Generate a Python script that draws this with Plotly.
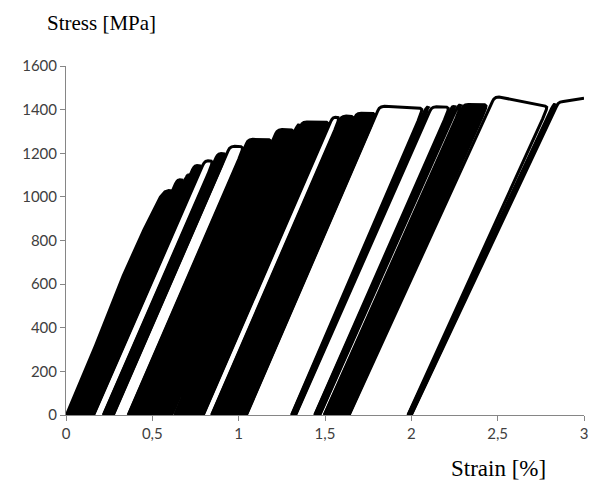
import plotly.graph_objects as go

# ---- data (strain in %, stress in MPa) ----
# first monotonic loading curve
initial_strain = [0.0, 0.17, 0.33, 0.45, 0.545, 0.572, 0.595]
initial_stress = [0, 320, 640, 850, 1000, 1024, 1030]

# each segment: a loading/unloading envelope between two residual strains
seg_start = [0.000, 0.050, 0.097, 0.110, 0.160, 0.216, 0.274, 0.360, 0.505, 0.611, 0.630,
             0.795, 0.843, 0.925, 1.045, 1.306, 1.330, 1.440, 1.470, 1.495, 1.640, 1.980]
seg_end = [0.050, 0.097, 0.110, 0.160, 0.216, 0.274, 0.360, 0.505, 0.611, 0.630, 0.795,
           0.843, 0.925, 1.045, 1.306, 1.330, 1.440, 1.470, 1.495, 1.640, 1.980, 2.000]
peak_start = [1030, 1080, 1100, 1145, 1165, 1200, 1232, 1265, 1310, 1330, 1345,
              1365, 1372, 1385, 1415, 1412, 1413, 1416, 1420, 1425, 1458, 1425]
peak_end = [1030, 1080, 1100, 1145, 1165, 1200, 1232, 1265, 1310, 1330, 1345,
            1365, 1372, 1385, 1408, 1412, 1413, 1416, 1420, 1425, 1418, 1425]
modulus = [1800, 1830, 1830, 1820, 1820, 1820, 1830, 1830, 1830, 1830, 1830,
           1830, 1830, 1835, 1840, 1820, 1800, 1790, 1780, 1770, 1740, 1700]
dense = [1, 1, 0, 1, 0, 1, 0, 1, 1, 0, 1, 0, 1, 1, 0, 1, 0, 1, 0, 1, 0, 1]

final_start = 2.000
final_peak = 1437
final_end_peak = 1452
final_modulus = 1690
final_end_strain = 3.0

x_ticks = [0, 0.5, 1, 1.5, 2, 2.5, 3]
x_ticktext = ["0", "0,5", "1", "1,5", "2", "2,5", "3"]
y_ticks = [0, 200, 400, 600, 800, 1000, 1200, 1400, 1600]


def left_corner(a, s, E, k):
    xc = a + s / E
    return ([a, xc - 60 / E, xc - 0.008, xc, xc + 0.012 * k, xc + 0.03 * k],
            [0, s - 60, s - 20, s - 9, s - 2.5, s])


def right_corner(b, s, E, k):
    xe = b + s / E
    return ([xe - 0.04 * k, xe - 0.02 * k, xe - 0.011, xe - 0.013, xe - 60 / E, b],
            [s, s - 1.5, s - 7, s - 18, s - 60, 0])


def cycle_path(i):
    a, b = seg_start[i], seg_end[i]
    s1, s2, E = peak_start[i], peak_end[i], modulus[i]
    L = (b + s2 / E) - (a + s1 / E)
    k = max(0.2, min(1.0, L / 0.075))
    if i == 0:
        lx, ly = list(initial_strain), list(initial_stress)
    else:
        lx, ly = left_corner(a, s1, E, k)
    rx, ry = right_corner(b, s2, E, k)
    return lx + rx, ly + ry


fig = go.Figure()
for i in range(len(seg_start)):
    xs, ys = cycle_path(i)
    if dense[i]:
        fig.add_trace(go.Scatter(x=xs + [xs[0]], y=ys + [ys[0]], mode="lines",
                                 fill="toself", fillcolor="black",
                                 line=dict(color="black", width=2.4),
                                 hoverinfo="skip"))
    else:
        fig.add_trace(go.Scatter(x=xs, y=ys, mode="lines",
                                 line=dict(color="black", width=3),
                                 hoverinfo="skip"))

fx, fy = left_corner(final_start, final_peak, final_modulus, 1.0)
fx = fx + [final_end_strain]
fy = fy + [final_end_peak]
fig.add_trace(go.Scatter(x=fx, y=fy, mode="lines",
                         line=dict(color="black", width=3), hoverinfo="skip"))

axis_common = dict(showline=True, linecolor="#868686", linewidth=1,
                   ticks="outside", ticklen=5, tickcolor="#868686",
                   showgrid=False, zeroline=False, automargin=False,
                   tickfont=dict(family="Lato", size=15, color="#404040"))

fig.update_layout(
    width=590, height=488,
    margin=dict(l=66, r=6, t=66, b=73),
    plot_bgcolor="white", paper_bgcolor="white",
    showlegend=False,
    xaxis=dict(range=[0, 3], tickvals=x_ticks, ticktext=x_ticktext, **axis_common),
    yaxis=dict(range=[0, 1600], tickvals=y_ticks, **axis_common),
    annotations=[
        dict(text="Stress [MPa]", xref="paper", yref="paper",
             x=-0.04, y=1.123, xanchor="left", yanchor="middle", showarrow=False,
             font=dict(family="Liberation Serif", size=21, color="black")),
        dict(text="Strain [%]", xref="paper", yref="paper",
             x=0.834, y=-0.152, xanchor="center", yanchor="middle", showarrow=False,
             font=dict(family="Liberation Serif", size=23, color="black")),
    ],
)

fig.write_html("out.html",
               config={"displayModeBar": False},
               post_script="document.body.style.margin='0';"
                           "document.body.style.overflow='hidden';")
